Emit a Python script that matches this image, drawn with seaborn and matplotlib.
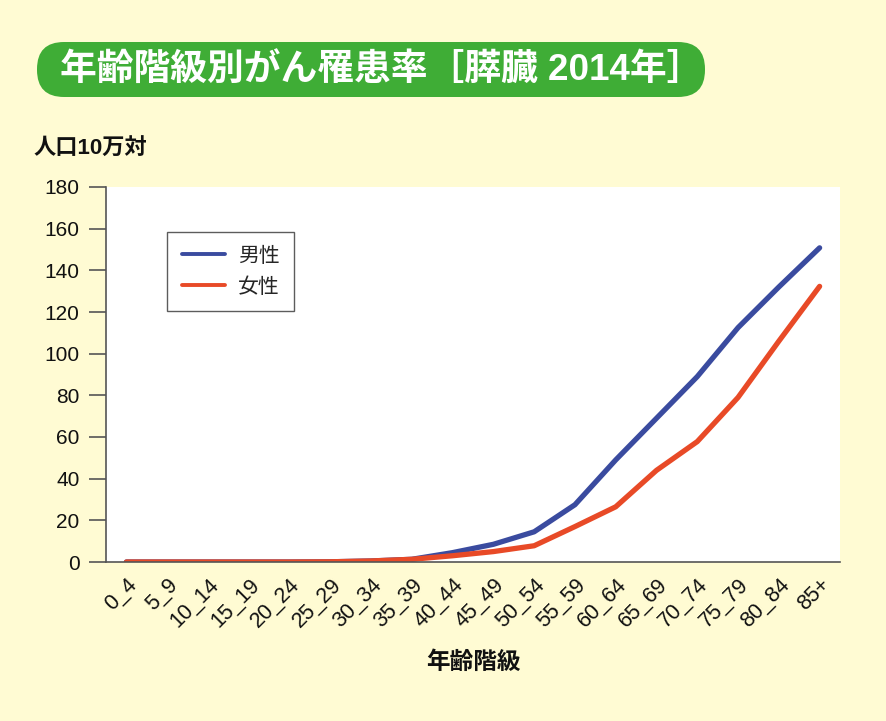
import numpy as np
import pandas as pd
import matplotlib
matplotlib.use("Agg")
import matplotlib.pyplot as plt
import seaborn as sns
from matplotlib.patches import FancyBboxPatch
from matplotlib.transforms import IdentityTransform

# ---- data ----
age_groups = ["0_4", "5_9", "10_14", "15_19", "20_24", "25_29", "30_34", "35_39",
              "40_44", "45_49", "50_54", "55_59", "60_64", "65_69", "70_74",
              "75_79", "80_84", "85+"]
male = [0.0, 0.0, 0.0, 0.0, 0.0, 0.1, 0.5, 1.3, 4.5, 8.5, 14.5, 27.5, 49.0, 69.0,
        89.0, 112.5, 132.0, 150.8]
female = [0.0, 0.0, 0.0, 0.0, 0.0, 0.1, 0.5, 1.3, 3.0, 5.0, 7.8, 17.0, 26.5, 44.0,
          57.8, 79.0, 106.0, 132.3]
series_names = ["男性", "女性"]
yticks = [0, 20, 40, 60, 80, 100, 120, 140, 160, 180]

title_text = "年齢階級別がん罹患率［膵臓 2014年］"
ylabel_text = "人口10万対"
xlabel_text = "年齢階級"

df = pd.DataFrame({
    "age": age_groups * 2,
    "rate": male + female,
    "sex": [series_names[0]] * len(age_groups) + [series_names[1]] * len(age_groups),
})

# ---- style ----
sns.set_theme(style="white")
plt.rcParams["font.family"] = ["Liberation Sans", "Noto Sans CJK JP", "DejaVu Sans"]

bg = "#FFFBD3"
blue = "#3A4B9F"
red = "#E84A27"
green = "#3FAD36"
axcol = "#555555"

fig = plt.figure(figsize=(8.86, 7.21), dpi=100, facecolor=bg)
ax = fig.add_axes([106 / 886, 1 - 562 / 721, 734 / 886, 375 / 721])
ax.set_facecolor("white")

sns.lineplot(data=df, x="age", y="rate", hue="sex", palette=[blue, red],
             linewidth=3.8, ax=ax, legend=True)

ax.set_xlim(-0.5, len(age_groups) - 0.5)
ax.set_ylim(0, 180)
ax.set_yticks(yticks)
ax.set_yticklabels([str(v) for v in yticks], fontsize=15, color="#111111")

ax.set_xticks(range(len(age_groups)))
ax.set_xticklabels(age_groups, fontsize=15.5, rotation=45, ha="right",
                   rotation_mode="anchor", color="#111111")
ax.set_xticks(np.arange(-0.5, len(age_groups), 1.0), minor=True)
ax.tick_params(axis="x", which="major", length=0, pad=9)
ax.tick_params(axis="x", which="minor", length=10, width=1.2, color=axcol, direction="out")
ax.tick_params(axis="y", which="major", length=12, width=1.2, color=axcol,
               direction="out", pad=7, left=True)

for s in ["top", "right"]:
    ax.spines[s].set_visible(False)
for s in ["left", "bottom"]:
    ax.spines[s].set_color(axcol)
    ax.spines[s].set_linewidth(1.2)

ax.set_xlabel("")
ax.set_ylabel("")

leg = ax.legend(loc="upper left", bbox_to_anchor=(0.083, 0.88), borderaxespad=0,
                fontsize=15, frameon=True, fancybox=False, edgecolor="#333333",
                handlelength=2.1, handletextpad=0.6, borderpad=0.7,
                labelspacing=0.55)
leg.get_frame().set_linewidth(1.0)
for h in leg.legend_handles:
    h.set_linewidth(2.8)

# axis texts
fig.text(33 / 886, 1 - 149 / 721, ylabel_text, fontsize=16, fontweight="bold",
         ha="left", va="center", color="#111111")
fig.text(473 / 886, 1 - 662 / 721, xlabel_text, fontsize=17, fontweight="bold",
         ha="center", va="center", color="#111111")

# title banner
box = FancyBboxPatch((37, 721 - 97), 668, 55,
                     boxstyle="round,pad=0,rounding_size=27",
                     transform=IdentityTransform(), facecolor=green,
                     edgecolor="none", zorder=0)
fig.patches.append(box)
fig.text(382 / 886, 1 - 70 / 721, title_text, fontsize=26.5, fontweight="bold",
         color="white", ha="center", va="center")

fig.savefig("out.png", dpi=100, facecolor=bg)
